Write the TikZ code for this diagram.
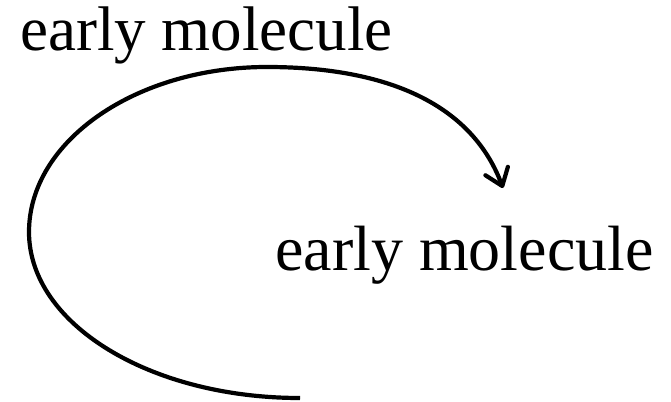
\documentclass[tikz,border=0pt]{standalone}
\usepackage{fontspec}
\setmainfont{Liberation Serif}
\usetikzlibrary{arrows.meta}
\begin{document}
\begin{tikzpicture}[x=1pt,y=-1pt,
  lbl/.style={anchor=base west,inner sep=0pt,font=\fontsize{63}{70}\selectfont},
  loop/.style={line width=4.2pt,-{Straight Barb[length=16pt,width=24pt,line cap=round,line join=round]}}]
\useasboundingbox (0,0) rectangle (671,401);
\node[lbl] (top) at (20,51) {early molecule};
\node[lbl,font=\fontsize{64}{70}\selectfont] (mid) at (275,270) {early molecule};
\coordinate (start) at (300,398);
\coordinate (left) at (29,232);
\coordinate (crest) at (267,67);
\coordinate (tip) at (503,188);
\draw[loop] (start) .. controls (150,398) and (29,324) .. (left)
  .. controls (29,141) and (136,67) .. (crest)
  .. controls (380,67) and (470,100) .. (tip);
\end{tikzpicture}
\end{document}
